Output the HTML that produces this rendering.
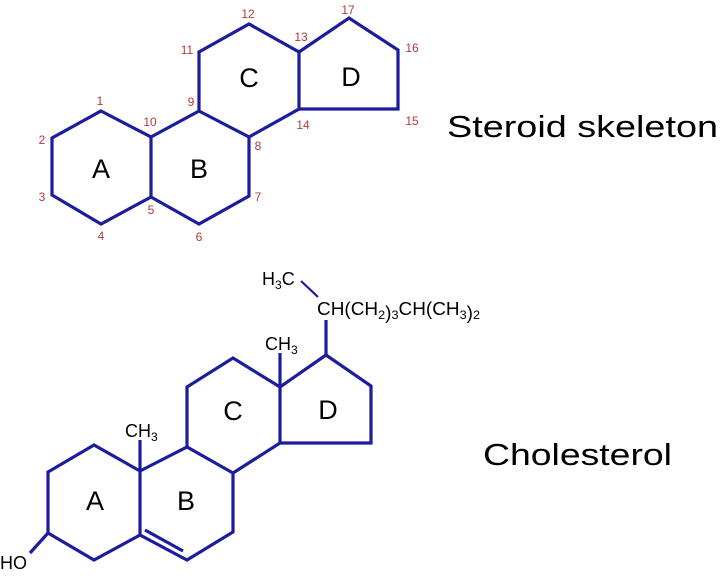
<!DOCTYPE html>
<html><head><style>html,body{margin:0;padding:0;background:#fff;}svg{display:block}</style></head>
<body>
<svg width="720" height="579" viewBox="0 0 720 579" xmlns="http://www.w3.org/2000/svg" font-family="Liberation Sans, sans-serif">
<g fill="none" stroke="#1c1c9c" stroke-width="3.2" stroke-linejoin="miter">
<polygon points="101,111 151,137 151,197 101,224 52,195 52,138"/>
<polyline points="151,137 199,111 249,137 249,196 199,224 151,197"/>
<polyline points="199,111 199,52 249,24 299,52 299,109 249,137"/>
<polyline points="299,52 349,18 398,50 398,109 299,109"/>

<polygon points="94,445 48,472 48,533 94,560 140,535 140,471"/>
<polyline points="140,471 187,447 233,473 233,532 187,560 140,535"/>
<line x1="145" y1="530" x2="183" y2="551"/>
<polyline points="187,447 187,387 233,358 280,387 280,443 233,473"/>
<polyline points="280,387 326,355 371,386 371,443 280,443"/>
<line x1="140" y1="471" x2="140" y2="440"/>
<line x1="280" y1="387" x2="280" y2="353"/>
<line x1="326" y1="355" x2="326" y2="320"/>
<line x1="48" y1="533" x2="30" y2="553"/>
</g>
<line x1="301" y1="281" x2="318" y2="297" stroke="#1c1c9c" stroke-width="2.2"/>
<g fill="#b03a3a" font-size="12" text-anchor="middle">
<text x="100" y="105">1</text><text x="42" y="144">2</text><text x="42" y="201">3</text>
<text x="101" y="240">4</text><text x="151" y="214">5</text><text x="199" y="241">6</text>
<text x="258" y="201">7</text><text x="258" y="150">8</text><text x="191" y="106">9</text>
<text x="150" y="126">10</text><text x="187" y="54">11</text><text x="248" y="18">12</text>
<text x="301" y="41">13</text><text x="303" y="129">14</text><text x="412" y="125">15</text>
<text x="412" y="52">16</text><text x="348" y="14">17</text>
</g>
<g fill="#000" font-size="27" text-anchor="middle">
<text x="101" y="178">A</text><text x="199" y="178">B</text><text x="249" y="87">C</text><text x="351" y="86">D</text>
<text x="95" y="510">A</text><text x="186" y="510">B</text><text x="233" y="420">C</text><text x="328" y="419">D</text>
</g>
<text x="447" y="137" font-size="31" textLength="271" lengthAdjust="spacingAndGlyphs">Steroid skeleton</text>
<text x="483" y="465" font-size="31" textLength="189" lengthAdjust="spacingAndGlyphs">Cholesterol</text>
<g font-size="18" fill="#000">
<text x="125" y="437">CH<tspan font-size="12" dy="4">3</tspan></text>
<text x="265" y="350">CH<tspan font-size="12" dy="4">3</tspan></text>
<text x="262" y="285">H<tspan font-size="12" dy="4">3</tspan><tspan dy="-4">C</tspan></text>
<text x="317" y="315" textLength="163" lengthAdjust="spacingAndGlyphs">CH(CH<tspan font-size="12" dy="4">2</tspan><tspan dy="0">)</tspan><tspan font-size="12" dy="0">3</tspan><tspan dy="-4">CH(CH</tspan><tspan font-size="12" dy="4">3</tspan><tspan dy="0">)</tspan><tspan font-size="12">2</tspan></text>
<text x="0" y="569">HO</text>
</g>
</svg>
</body></html>
